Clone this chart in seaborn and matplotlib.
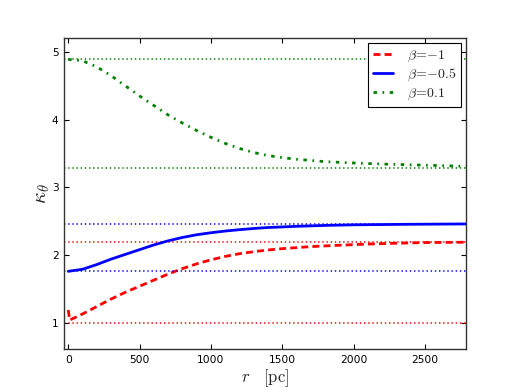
import matplotlib
matplotlib.use('Agg')
import matplotlib.pyplot as plt
import seaborn as sns
import pandas as pd

# data
r_red = [0, 10, 100, 200, 300, 400, 500, 600, 700, 800, 900, 1000, 1100, 1200, 1300,
         1400, 1500, 1600, 1700, 1800, 1900, 2100, 2300, 2500, 2790]
k_red = [1.19, 1.04, 1.13, 1.24, 1.35, 1.45, 1.54, 1.63, 1.72, 1.80, 1.87, 1.93, 1.98, 2.02, 2.05,
         2.075, 2.095, 2.11, 2.125, 2.135, 2.145, 2.163, 2.175, 2.185, 2.19]
r_blue = [0, 100, 200, 300, 400, 500, 600, 700, 800, 900, 1000, 1100, 1200, 1300, 1400, 1600,
          1800, 2000, 2400, 2790]
k_blue = [1.76, 1.79, 1.86, 1.94, 2.01, 2.08, 2.15, 2.21, 2.26, 2.30, 2.33, 2.355, 2.375, 2.393, 2.407, 2.425,
          2.438, 2.447, 2.455, 2.46]
r_green = [0, 100, 200, 300, 400, 500, 600, 700, 800, 900, 1000, 1100, 1200, 1300, 1400,
           1500, 1600, 1800, 2000, 2200, 2400, 2600, 2790]
k_green = [4.89, 4.87, 4.78, 4.65, 4.50, 4.35, 4.21, 4.07, 3.95, 3.84, 3.74, 3.65, 3.575, 3.515, 3.47,
           3.44, 3.415, 3.38, 3.36, 3.345, 3.333, 3.322, 3.31]
labels = [r'$\beta\!=\!{-}1$', r'$\beta\!=\!{-}0.5$', r'$\beta\!=\!0.1$']
limits_red = [1.0, 2.19]
limits_blue = [1.76, 2.46]
limits_green = [3.28, 4.89]
xticks = [0, 500, 1000, 1500, 2000, 2500]
yticks = [1, 2, 3, 4, 5]

sns.set_style('ticks')
plt.rcParams['mathtext.fontset'] = 'cm'
plt.rcParams['font.family'] = ['DejaVu Sans']
plt.rcParams['xtick.direction'] = 'in'
plt.rcParams['ytick.direction'] = 'in'
plt.rcParams['lines.scale_dashes'] = False

fig, ax = plt.subplots(figsize=(5.18, 3.88), dpi=100)
fig.subplots_adjust(left=0.124, right=0.9, bottom=0.1, top=0.901)

series = [(r_red, k_red, 'r', (0, (5, 3)), limits_red),
          (r_blue, k_blue, 'b', '-', limits_blue),
          (r_green, k_green, 'g', (0, (2.5, 4, 1.2, 4)), limits_green)]
for (rr, kk, c, ls, lims), lab in zip(series, labels):
    df = pd.DataFrame({'r': rr, 'k': kk})
    sns.lineplot(data=df, x='r', y='k', color=c, linestyle=ls, lw=2, label=lab, ax=ax,
                 sort=False, estimator=None)
    for v in lims:
        ax.axhline(v, color=c, linestyle=(0, (1, 2)), lw=1.1)

ax.set_xlim(-28, 2790)
ax.set_ylim(0.61, 5.2)
ax.set_xticks(xticks)
ax.set_yticks(yticks)
ax.tick_params(axis='both', labelsize=7.7, length=3.5, width=0.8, top=True, right=True,
               color='black', labelcolor='black', pad=4)
for s in ax.spines.values():
    s.set_color('#333333')
    s.set_linewidth(1.0)
ax.set_xlabel(r'$r\quad[\mathrm{pc}]$', fontsize=12, labelpad=2)
ax.set_ylabel(r'$\kappa_\theta$', fontsize=15, labelpad=0)
leg = ax.legend(loc='upper right', fontsize=10, frameon=True, fancybox=False,
                edgecolor='black', framealpha=1, borderaxespad=0.35, handlelength=1.45,
                handletextpad=1.0, labelspacing=0.2, borderpad=0.35)
leg.get_frame().set_linewidth(0.8)
fig.savefig('out.png', dpi=100, facecolor='white')
